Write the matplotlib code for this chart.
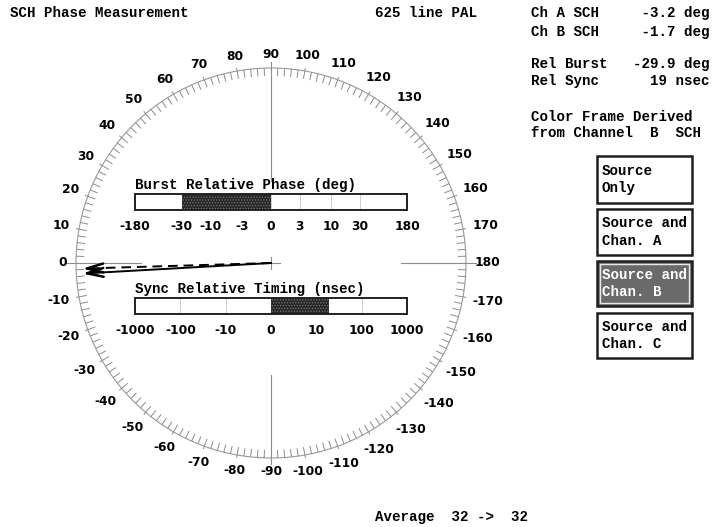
import numpy as np
import matplotlib.pyplot as plt
from matplotlib.patches import Rectangle, Circle
from matplotlib.collections import LineCollection

# --------------------------------------------------
# Readings shown on the screen
# --------------------------------------------------
ch_a_sch = -3.2      # deg
ch_b_sch = -1.7      # deg
rel_burst = -29.9    # deg
rel_sync = 19        # nsec
avg_from, avg_to = 32, 32

dial_labels = list(range(-170, 190, 10))          # -170 ... 180
burst_ticks = [-180, -30, -10, -3, 0, 3, 10, 30, 180]
sync_ticks = [-1000, -100, -10, 0, 10, 100, 1000]

info_lines = [
    "Ch A SCH     %4.1f deg" % ch_a_sch,
    "Ch B SCH     %4.1f deg" % ch_b_sch,
    "Rel Burst   %5.1f deg" % rel_burst,
    "Rel Sync      %2d nsec" % rel_sync,
    "Color Frame Derived",
    "from Channel  B  SCH",
]
buttons = ["Source\nOnly", "Source and\nChan. A", "Source and\nChan. B", "Source and\nChan. C"]
selected = 2

# --------------------------------------------------
# Layout (pixel coordinates, y down)
# --------------------------------------------------
W, H = 720, 527
CX, CY, R = 271, 263, 195
BAR_X0, BAR_X1 = 135, 407
HALF = (BAR_X1 - BAR_X0) / 2

mono = dict(family="Liberation Mono", weight="bold", size=10.2, color="black")
num = dict(family="DejaVu Sans", weight="bold", size=8.8, color="black")

fig = plt.figure(figsize=(W / 100, H / 100), dpi=100)
ax = fig.add_axes([0, 0, 1, 1])
ax.set_xlim(0, W)
ax.set_ylim(H, 0)
ax.axis("off")


def polar(r, deg):
    t = np.radians(deg)
    return CX - r * np.cos(t), CY - r * np.sin(t)


# --------------------------------------------------
# Dial
# --------------------------------------------------
ax.add_patch(Circle((CX, CY), R, fill=False, ec="#9a9a9a", lw=0.8))

segs = []
for a in np.arange(0, 360, 2):
    major = a % 10 == 0
    segs.append([polar(R - 8, a), polar(R + (3 if major else 0), a)])
ax.add_collection(LineCollection(segs, colors="#8c8c8c", linewidths=0.7))

# cross hair pieces
axis_col = "#8c8c8c"
ax.plot([CX - R - 10, CX - 0.665 * R], [CY, CY], color=axis_col, lw=0.8)
ax.plot([CX + 0.665 * R, CX + R + 10], [CY, CY], color=axis_col, lw=0.8)
ax.plot([CX, CX], [CY - R - 6, 181], color=axis_col, lw=0.8)
ax.plot([CX, CX], [375, CY + R + 6], color=axis_col, lw=0.8)
ax.plot([CX - 9, CX + 9], [CY, CY], color=axis_col, lw=0.8)
ax.plot([CX, CX], [CY - 6, CY + 6], color=axis_col, lw=0.8)

for d in dial_labels:
    s = str(d)
    ndig = len(s.lstrip("-"))
    hw = (ndig * 8.5 + (5.1 if d < 0 else 0)) / 2
    t = np.radians(d)
    dist = R + 9 + hw * abs(np.cos(t)) + 4.7 * abs(np.sin(t))
    x, y = polar(dist, d)
    ax.text(x, y, s, ha="center", va="center", **num)


# --------------------------------------------------
# Relative bars
# --------------------------------------------------
def burst_x(v):
    return CX + np.sign(v) * HALF * np.log10(max(abs(v), 1)) / np.log10(180)


def sync_x(v):
    a = abs(v)
    d = HALF / 3 * (np.log10(a) if a >= 10 else a / 10)
    return CX + np.sign(v) * d


def draw_bar(y0, title, ticks, xf, value):
    h = 16
    ax.add_patch(Rectangle((BAR_X0, y0), BAR_X1 - BAR_X0, h, fc="white", ec="none", zorder=2))
    for tv in ticks:
        ax.plot([xf(tv)] * 2, [y0, y0 + h], color="#c8c8c8", lw=0.6, zorder=2)
    x0, x1 = sorted([CX, xf(value)])
    ax.add_patch(Rectangle((x0, y0), x1 - x0, h, fc="#262626", ec="#7a7a7a",
                           hatch="......", lw=0, zorder=3))
    ax.add_patch(Rectangle((BAR_X0, y0), BAR_X1 - BAR_X0, h, fill=False,
                           ec="#222222", lw=1.4, zorder=4))
    ax.text(BAR_X0, y0 - 2, title, ha="left", va="bottom", zorder=4, **mono)
    for tv in ticks:
        ax.text(xf(tv), y0 + h + 16, str(tv), ha="center", va="center", **num)


plt.rcParams["hatch.linewidth"] = 0.6
draw_bar(194, "Burst Relative Phase (deg)", burst_ticks, burst_x, rel_burst)
draw_bar(298, "Sync Relative Timing (nsec)", sync_ticks, sync_x, rel_sync)

# --------------------------------------------------
# Vectors (solid = Ch A, dashed = Ch B)
# --------------------------------------------------
L = 0.945 * R
for ang, ls in [(ch_a_sch, "-"), (ch_b_sch, (0, (5, 3)))]:
    tx, ty = polar(L, ang)
    ax.plot([CX, tx], [CY, ty], color="black", lw=1.4, linestyle=ls, zorder=5)
    t = np.radians(ang)
    u = np.array([np.cos(t), np.sin(t)])
    for s in (1, -1):
        b = np.radians(15 * s)
        rot = np.array([[np.cos(b), -np.sin(b)], [np.sin(b), np.cos(b)]]) @ u
        ax.plot([tx, tx + 17 * rot[0]], [ty, ty + 17 * rot[1]],
                color="black", lw=1.8, zorder=5, solid_capstyle="round")

# --------------------------------------------------
# Header / side panel text
# --------------------------------------------------
ax.text(10, 13, "SCH Phase Measurement", ha="left", va="center", **mono)
ax.text(375, 13, "625 line PAL", ha="left", va="center", **mono)
for y, line in zip([13, 32, 64, 81, 117, 133], info_lines):
    ax.text(531, y, line, ha="left", va="center", **mono)
ax.text(375, 517, "Average  %d ->  %d" % (avg_from, avg_to), ha="left", va="center", **mono)

box_y = [(156, 203), (209, 255), (261, 306), (313, 358)]
for i, (label, (y0, y1)) in enumerate(zip(buttons, box_y)):
    sel = i == selected
    ax.add_patch(Rectangle((597, y0), 95, y1 - y0, fc="#6a6a6a" if sel else "white",
                           ec="#1e1e1e", lw=1.8))
    if sel:
        ax.add_patch(Rectangle((600, y0 + 3), 89, y1 - y0 - 6, fill=False, ec="#e8e8e8", lw=1))
    style = dict(mono, color="white" if sel else "black")
    ax.text(602, (y0 + y1) / 2, label, ha="left", va="center", linespacing=1.35, **style)

fig.savefig("out.png", dpi=100, facecolor="white")
